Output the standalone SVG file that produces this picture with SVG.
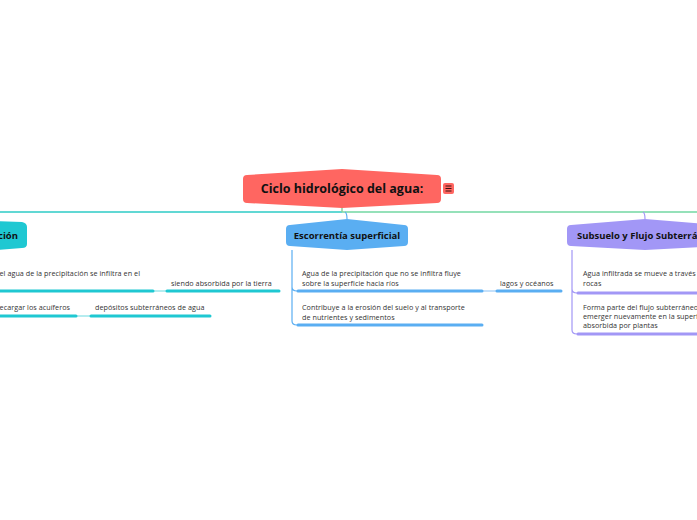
<svg xmlns="http://www.w3.org/2000/svg" width="697" height="520" viewBox="0 0 697 520">
<style>
.t{font-family:"Open Sans","Liberation Sans",sans-serif;font-size:7.2px;letter-spacing:0.05px;fill:#333}
.h{font-family:"Open Sans","Liberation Sans",sans-serif;font-weight:bold;fill:#111}
.bar{fill:none;stroke-width:3;stroke-linecap:round}
.thin{fill:none;stroke-width:2}
.teal{stroke:#1fc8d2}
.blue{stroke:#5aaef2}
.purple{stroke:#a297f6}
</style>
<rect width="697" height="520" fill="#ffffff"/>
<g id="connectors">
<line x1="0" y1="212" x2="342" y2="212" stroke="#2ccbc6" stroke-width="1.5"/>
<line x1="342" y1="212" x2="697" y2="212" stroke="#72d7a2" stroke-width="1.5"/>
<line x1="342" y1="207" x2="342" y2="212" stroke="#8fcf9c" stroke-width="1.5"/>
<path d="M345 212 Q347 213 347 219" stroke="#5aaef2" stroke-width="1.2" fill="none"/>
<path d="M643 212 Q645 213 645 219" stroke="#a297f6" stroke-width="1.2" fill="none"/>
<path d="M292 250 V287 Q292 291 297 291 M292 287 V321 Q292 325 297 325" stroke="#5aaef2" stroke-width="1.2" fill="none"/>
<line class="thin" x1="482" y1="291" x2="496" y2="291" stroke="#c4e0fa"/>
<path d="M572 250 V289 Q572 293 577 293 M572 289 V330 Q572 334 577 334" stroke="#a297f6" stroke-width="1.2" fill="none"/>
<line class="thin" x1="153" y1="291" x2="166" y2="291" stroke="#b5ecef"/>
<line class="thin" x1="76" y1="316" x2="90" y2="316" stroke="#b5ecef"/>
</g>
<g id="central">
<path d="M247 175 L342 169 L437 175 Q441 175 441 179 L441 199 Q441 203 437 203 L342 208 L247 203 Q243 203 243 199 L243 179 Q243 175 247 175 Z" fill="#ff6661"/>
<text class="h" x="342" y="193" font-size="12.5" text-anchor="middle">Ciclo hidrológico del agua:</text>
<rect x="443" y="183" width="11" height="11" rx="2" fill="#ff6661"/>
<path d="M445.5 186 H451.5 M445.5 188.5 H451.5 M445.5 191 H451.5" stroke="#3a1010" stroke-width="1"/>
</g>
<g id="infiltracion">
<path d="M-80 225 L-30 220 L22 222 Q27 223 27 227 L27 244 Q27 248 22 248 L-30 252 L-80 248 Z" fill="#1fc8d2"/>
<text class="h" x="18" y="239" font-size="9.5" text-anchor="end">Infiltración</text>
</g>
<g id="infiltracion-1">
<text class="t" x="140" y="276" text-anchor="end">Parte del agua de la precipitación se infiltra en el</text>
<line class="bar teal" x1="-5" y1="291" x2="153" y2="291"/>
</g>
<g id="infiltracion-1-1">
<text class="t" x="171" y="286">siendo absorbida por la tierra</text>
<line class="bar teal" x1="167" y1="291" x2="279" y2="291"/>
</g>
<g id="infiltracion-2">
<text class="t" x="70" y="310" text-anchor="end">recargar los acuíferos</text>
<line class="bar teal" x1="-5" y1="316" x2="76" y2="316"/>
</g>
<g id="infiltracion-2-1">
<text class="t" x="95" y="310">depósitos subterráneos de agua</text>
<line class="bar teal" x1="91" y1="316" x2="210" y2="316"/>
</g>
<g id="escorrentia">
<path d="M290 225 L347 219 L404 225 Q408 225 408 229 L408 242 Q408 246 404 246 L347 250 L290 246 Q286 246 286 242 L286 229 Q286 225 290 225 Z" fill="#5aaef2"/>
<text class="h" x="347" y="239" font-size="9.5" text-anchor="middle">Escorrentía superficial</text>
</g>
<g id="escorrentia-1">
<text class="t" x="302" y="276">Agua de la precipitación que no se infiltra fluye</text>
<text class="t" x="302" y="286">sobre la superficie hacia ríos</text>
<line class="bar blue" x1="298" y1="291" x2="482" y2="291"/>
</g>
<g id="escorrentia-1-1">
<text class="t" x="500" y="286">lagos y océanos</text>
<line class="bar blue" x1="497" y1="291" x2="561" y2="291"/>
</g>
<g id="escorrentia-2">
<text class="t" x="302" y="310">Contribuye a la erosión del suelo y al transporte</text>
<text class="t" x="302" y="320">de nutrientes y sedimentos</text>
<line class="bar blue" x1="298" y1="325" x2="482" y2="325"/>
</g>
<g id="subsuelo">
<path d="M571 225 L645 219 L719 225 Q723 225 723 229 L723 242 Q723 246 719 246 L645 250 L571 246 Q567 246 567 242 L567 229 Q567 225 571 225 Z" fill="#a297f6"/>
<text class="h" x="577" y="239" font-size="9.5">Subsuelo y Flujo Subterráneo</text>
</g>
<g id="subsuelo-1">
<text class="t" x="583" y="276">Agua infiltrada se mueve a través del suelo y las</text>
<text class="t" x="583" y="286">rocas</text>
<line class="bar purple" x1="578" y1="293" x2="710" y2="293"/>
</g>
<g id="subsuelo-2">
<text class="t" x="583" y="310">Forma parte del flujo subterráneo y puede</text>
<text class="t" x="583" y="319">emerger nuevamente en la superficie o ser</text>
<text class="t" x="583" y="328">absorbida por plantas</text>
<line class="bar purple" x1="578" y1="334" x2="710" y2="334"/>
</g>
</svg>
